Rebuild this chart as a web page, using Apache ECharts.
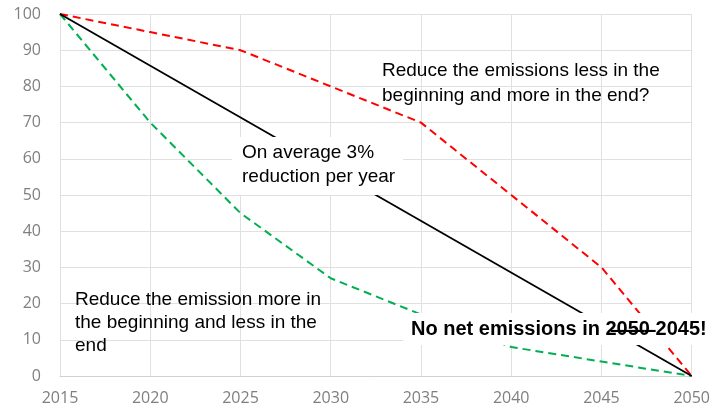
<!DOCTYPE html>
<html>
<head>
<meta charset="utf-8">
<script src="https://cdn.jsdelivr.net/npm/echarts@6/dist/echarts.min.js"></script>
<style>html,body{margin:0;padding:0;background:#fff;}#c{width:713px;height:406px;}</style>
</head>
<body>
<div id="c"></div>
<script>
var years = [2015, 2020, 2025, 2030, 2035, 2040, 2045, 2050];
var lateCut = [100, 95, 90, 80, 70, 50, 30, 0];
var earlyCut = [100, 70, 45, 27, 17, 8, 4, 0];
var avgYears = [2015, 2050];
var avgCut = [100, 0];

function pairs(xs, ys) { return xs.map(function (x, i) { return [x, ys[i]]; }); }

var chart = echarts.init(document.getElementById('c'), null, {renderer: 'canvas'});
var annFont = '"Liberation Sans", Arial, sans-serif';
chart.setOption({
  animation: false,
  backgroundColor: '#ffffff',
  grid: {left: 60, right: 20, top: 14, bottom: 30, containLabel: false},
  xAxis: {
    type: 'value', min: 2015, max: 2050, interval: 5,
    axisLine: {show: true, lineStyle: {color: '#d0d0d0', width: 1}},
    axisTick: {show: false},
    splitLine: {show: true, lineStyle: {color: '#e0e0e0', width: 1}},
    axisLabel: {color: '#7f7f7f', fontSize: 16, fontFamily: '"Open Sans", sans-serif', margin: 14,
      formatter: function (v) { return String(v); }}
  },
  yAxis: {
    type: 'value', min: 0, max: 100, interval: 10,
    axisLine: {show: false},
    axisTick: {show: false},
    splitLine: {show: true, lineStyle: {color: '#e0e0e0', width: 1}},
    axisLabel: {color: '#7f7f7f', fontSize: 16, fontFamily: '"Open Sans", sans-serif', margin: 19}
  },
  series: [
    {type: 'line', data: pairs(years, earlyCut), symbol: 'none',
     lineStyle: {color: '#00b050', width: 2, type: [8, 5]}},
    {type: 'line', data: pairs(years, lateCut), symbol: 'none',
     lineStyle: {color: '#ff0000', width: 2, type: [8, 5]}},
    {type: 'line', data: pairs(avgYears, avgCut), symbol: 'none',
     lineStyle: {color: '#000000', width: 1.8}}
  ],
  graphic: [
    {type: 'text', left: 232, top: 137, z: 100,
     style: {text: 'On average 3%\nreduction per year', font: '19px ' + annFont, fill: '#000',
       lineHeight: 24, backgroundColor: '#fff', padding: [4, 8, 6, 10]}},
    {type: 'text', left: 382, top: 58, z: 100,
     style: {text: 'Reduce the emissions less in the\nbeginning and more in the end?', font: '19px ' + annFont,
       fill: '#000', lineHeight: 25}},
    {type: 'text', left: 75, top: 288, z: 100,
     style: {text: 'Reduce the emission more in\nthe beginning and less in the\nend', font: '19px ' + annFont,
       fill: '#000', lineHeight: 23}},
    {type: 'text', left: 403, top: 313, z: 100,
     style: {text: 'No net emissions in 2\u03360\u03365\u03360\u0336 2045!', font: 'bold 20px ' + annFont,
       fill: '#000', backgroundColor: '#fff', padding: [5, 8, 5, 8], lineHeight: 22}}
  ]
});
</script>
</body>
</html>
